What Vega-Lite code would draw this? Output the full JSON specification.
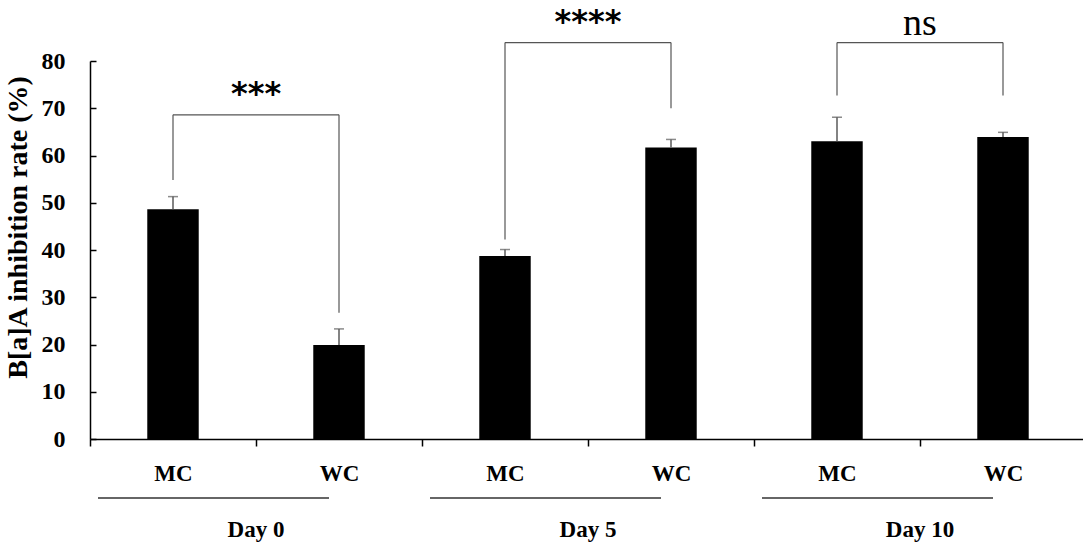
{
  "$schema": "https://vega.github.io/schema/vega-lite/v6.json",
  "width": 996,
  "height": 378,
  "autosize": {"type": "none"},
  "padding": {"left": 90, "top": 61, "right": 0, "bottom": 112},
  "background": "white",
  "config": {"view": {"stroke": null}, "font": "Liberation Serif"},
  "datasets": {
    "bars": [
      {"cat": "Day 0|MC", "day": "Day 0", "group": "MC", "mean": 48.6, "upper": 51.3},
      {"cat": "Day 0|WC", "day": "Day 0", "group": "WC", "mean": 19.9, "upper": 23.3},
      {"cat": "Day 5|MC", "day": "Day 5", "group": "MC", "mean": 38.75, "upper": 40.1},
      {"cat": "Day 5|WC", "day": "Day 5", "group": "WC", "mean": 61.7, "upper": 63.4},
      {"cat": "Day 10|MC", "day": "Day 10", "group": "MC", "mean": 63.0, "upper": 68.1},
      {"cat": "Day 10|WC", "day": "Day 10", "group": "WC", "mean": 63.9, "upper": 64.9}
    ],
    "brackets": [
      {"left": "Day 0|MC", "right": "Day 0|WC", "top": 68.6, "leftEnd": 54.8, "rightEnd": 26.7, "label": "***"},
      {"left": "Day 5|MC", "right": "Day 5|WC", "top": 83.9, "leftEnd": 42.2, "rightEnd": 70.0, "label": "****"},
      {"left": "Day 10|MC", "right": "Day 10|WC", "top": 83.9, "leftEnd": 72.7, "rightEnd": 72.7, "label": "ns"}
    ],
    "days": [
      {"day": "Day 0", "first": "Day 0|MC", "last": "Day 0|WC"},
      {"day": "Day 5", "first": "Day 5|MC", "last": "Day 5|WC"},
      {"day": "Day 10", "first": "Day 10|MC", "last": "Day 10|WC"}
    ]
  },
  "resolve": {"axis": {"y": "independent"}},
  "layer": [
    {
      "layer": [
        {
          "data": {"name": "bars"},
          "mark": {"type": "bar", "width": {"band": 0.31}, "color": "black"},
          "encoding": {
            "x": {
              "field": "cat", "type": "nominal",
              "scale": {"domain": ["Day 0|MC", "Day 0|WC", "Day 5|MC", "Day 5|WC", "Day 10|MC", "Day 10|WC"], "paddingInner": 0, "paddingOuter": 0},
              "axis": {
                "title": null,
                "labelExpr": "split(datum.label, '|')[1]",
                "labelAngle": 0,
                "tickBand": "extent",
                "tickSize": 7,
                "tickColor": "black",
                "tickWidth": 1.5,
                "domainColor": "black",
                "domainWidth": 1.5,
                "labelFont": "Liberation Serif",
                "labelFontWeight": "bold",
                "labelFontSize": 23,
                "labelColor": "black",
                "labelPadding": 16
              }
            },
            "y": {
              "field": "mean", "type": "quantitative",
              "scale": {"domain": [0, 80], "nice": false},
              "axis": {
                "title": "B[a]A inhibition rate (%)",
                "values": [0, 10, 20, 30, 40, 50, 60, 70, 80],
                "grid": false,
                "ticks": false,
                "domainColor": "black",
                "domainWidth": 1.5,
                "labelFont": "Liberation Serif",
                "labelFontWeight": "bold",
                "labelFontSize": 24,
                "labelColor": "black",
                "labelPadding": 25,
                "titleFont": "Liberation Serif",
                "titleFontWeight": "bold",
                "titleFontSize": 28,
                "titleColor": "black",
                "titleX": -58,
                "titleY": 166
              }
            }
          }
        },
        {
          "data": {"name": "bars"},
          "mark": {"type": "rule", "color": "#5a5a5a", "strokeWidth": 1.5},
          "encoding": {
            "x": {"field": "cat", "type": "nominal"},
            "y": {"field": "mean", "type": "quantitative"},
            "y2": {"field": "upper"}
          }
        },
        {
          "data": {"name": "bars"},
          "mark": {"type": "tick", "color": "#5a5a5a", "size": 10, "thickness": 1.5, "orient": "horizontal"},
          "encoding": {
            "x": {"field": "cat", "type": "nominal"},
            "y": {"field": "upper", "type": "quantitative"}
          }
        },
        {
          "data": {"name": "brackets"},
          "mark": {"type": "rule", "color": "#555555", "strokeWidth": 1.2},
          "encoding": {
            "x": {"field": "left", "type": "nominal"},
            "y": {"field": "leftEnd", "type": "quantitative"},
            "y2": {"field": "top"}
          }
        },
        {
          "data": {"name": "brackets"},
          "mark": {"type": "rule", "color": "#555555", "strokeWidth": 1.2},
          "encoding": {
            "x": {"field": "right", "type": "nominal"},
            "y": {"field": "rightEnd", "type": "quantitative"},
            "y2": {"field": "top"}
          }
        },
        {
          "data": {"name": "brackets"},
          "mark": {"type": "rule", "color": "#555555", "strokeWidth": 1.2},
          "encoding": {
            "x": {"field": "left", "type": "nominal"},
            "x2": {"field": "right"},
            "y": {"field": "top", "type": "quantitative"}
          }
        },
        {
          "data": {"name": "brackets"},
          "transform": [{"filter": "datum.label != 'ns'"}],
          "mark": {"type": "text", "font": "DejaVu Sans", "fontWeight": "bold", "fontSize": 32, "baseline": "alphabetic", "dy": -11, "color": "black"},
          "encoding": {
            "x": {"field": "left", "type": "nominal", "bandPosition": 1},
            "y": {"field": "top", "type": "quantitative"},
            "text": {"field": "label"}
          }
        },
        {
          "data": {"name": "brackets"},
          "transform": [{"filter": "datum.label == 'ns'"}],
          "mark": {"type": "text", "font": "Liberation Serif", "fontSize": 38, "baseline": "alphabetic", "dy": -8, "color": "black"},
          "encoding": {
            "x": {"field": "left", "type": "nominal", "bandPosition": 1},
            "y": {"field": "top", "type": "quantitative"},
            "text": {"field": "label"}
          }
        },
        {
          "data": {"name": "days"},
          "mark": {"type": "rule", "color": "#333333", "strokeWidth": 1.6, "yOffset": 59, "xOffset": 8, "x2Offset": -10},
          "encoding": {
            "x": {"field": "first", "type": "nominal", "bandPosition": 0},
            "x2": {"field": "last"},
            "y": {"datum": 0}
          }
        },
        {
          "data": {"name": "days"},
          "mark": {"type": "text", "font": "Liberation Serif", "fontWeight": "bold", "fontSize": 23, "baseline": "middle", "yOffset": 91, "color": "black"},
          "encoding": {
            "x": {"field": "first", "type": "nominal", "bandPosition": 1},
            "y": {"datum": 0},
            "text": {"field": "day"}
          }
        }
      ]
    },
    {
      "data": {"name": "bars"},
      "mark": {"type": "point", "opacity": 0},
      "encoding": {
        "y": {
          "field": "mean", "type": "quantitative",
          "axis": {
            "orient": "right",
            "offset": -996,
            "title": null,
            "labels": false,
            "domain": false,
            "grid": false,
            "values": [0, 10, 20, 30, 40, 50, 60, 70, 80],
            "tickSize": 6,
            "tickColor": "black",
            "tickWidth": 1.5
          }
        }
      }
    }
  ]
}
